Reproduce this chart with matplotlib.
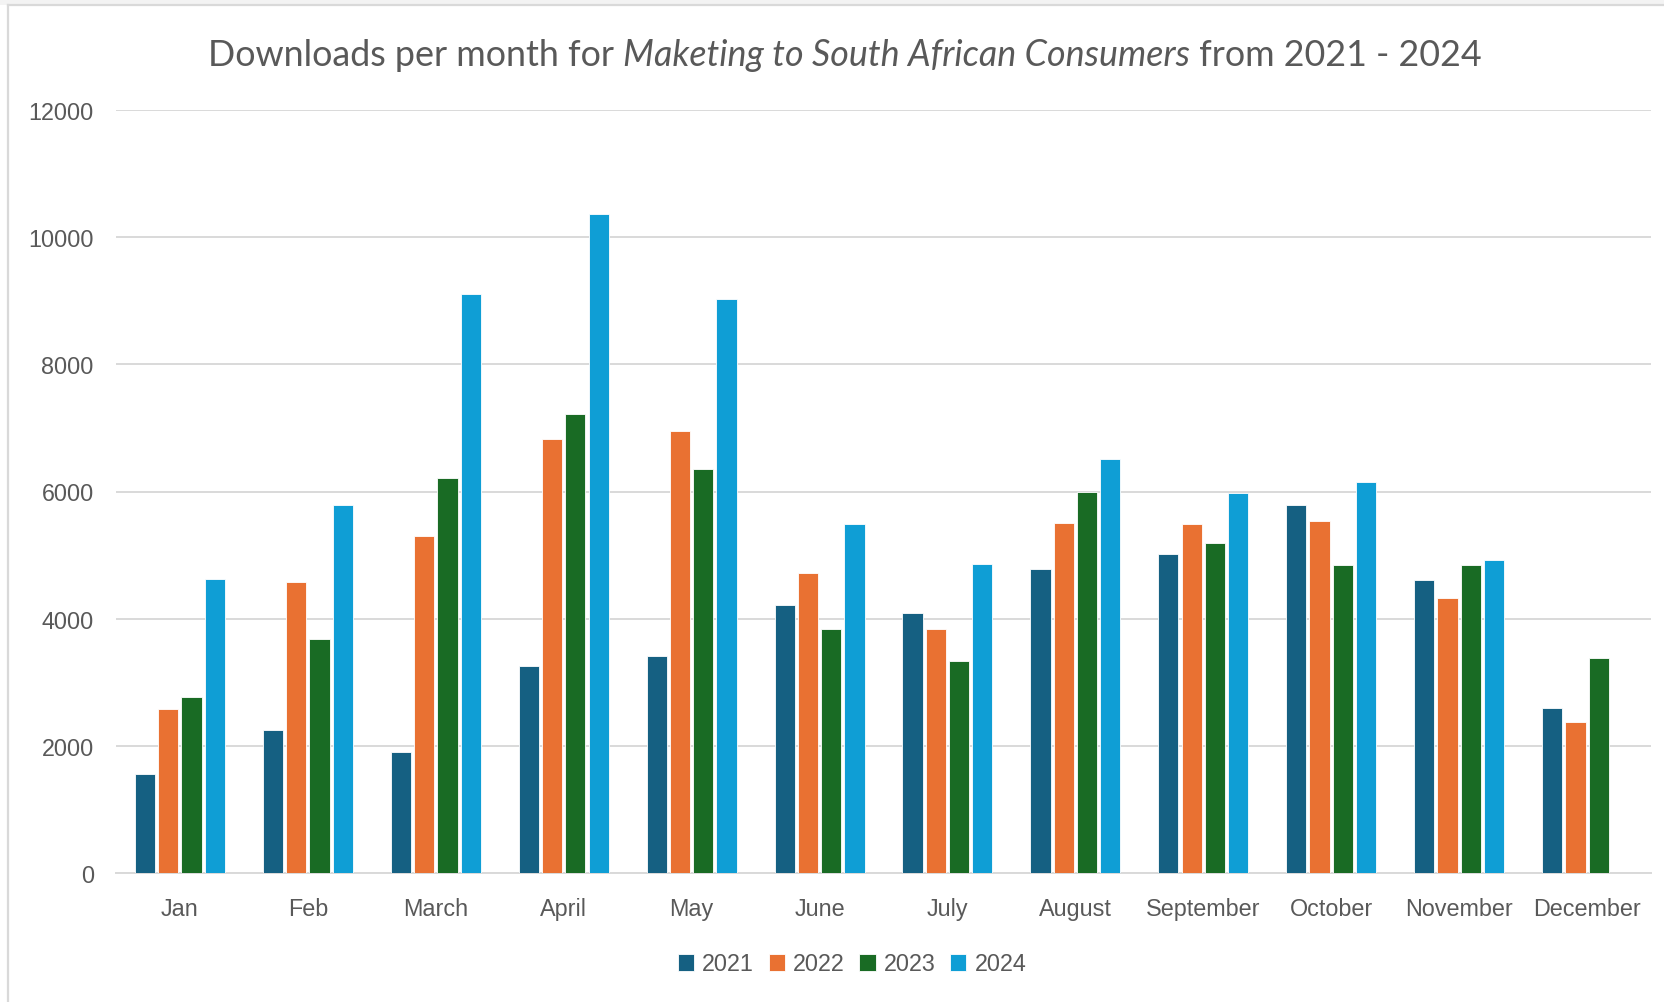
import matplotlib
matplotlib.use("Agg")
import matplotlib.pyplot as plt
import numpy as np
from matplotlib.patches import Rectangle
from matplotlib.lines import Line2D

months = ["Jan", "Feb", "March", "April", "May", "June", "July", "August",
          "September", "October", "November", "December"]
years = ["2021", "2022", "2023", "2024"]
d2021 = [1560, 2255, 1905, 3260, 3415, 4215, 4090, 4780, 5020, 5790, 4610, 2590]
d2022 = [2575, 4570, 5300, 6830, 6945, 4720, 3840, 5510, 5490, 5530, 4325, 2375]
d2023 = [2770, 3675, 6205, 7220, 6360, 3840, 3340, 6000, 5190, 4845, 4845, 3385]
d2024 = [4620, 5780, 9110, 10360, 9020, 5490, 4866, 6515, 5980, 6150, 4925, 0]
series = [d2021, d2022, d2023, d2024]
colors = ["#156082", "#E97132", "#196B24", "#0F9ED5"]
yticks = [0, 2000, 4000, 6000, 8000, 10000, 12000]

W, H, DPI = 1664, 1003, 100
fig = plt.figure(figsize=(W / DPI, H / DPI), dpi=DPI)
fig.patch.set_facecolor("white")

# outer chart frame
fig.add_artist(Rectangle((0, 1 - 6 / H), 1, 6 / H, transform=fig.transFigure,
                         facecolor="#f3f3f3", edgecolor="none", zorder=0))
fig.add_artist(Line2D([8 / W, 8 / W], [0, 1 - 6 / H], transform=fig.transFigure,
                      color="#d9d9d9", lw=1.6))
fig.add_artist(Line2D([8 / W, 1], [1 - 6 / H, 1 - 6 / H], transform=fig.transFigure,
                      color="#d9d9d9", lw=1.6))

ax = fig.add_axes([116 / W, (H - 874) / H, (1651 - 116) / W, (874 - 111) / H])
x = np.arange(len(months))
slot = 0.182
bw = 0.158
for i, (vals, c, yr) in enumerate(zip(series, colors, years)):
    ax.bar(x + (i - 1.5) * slot, vals, width=bw, color=c, edgecolor="white",
           linewidth=0.6, label=yr, zorder=3)

FS = 16.8
ax.set_xlim(-0.5, len(months) - 0.5)
ax.set_ylim(0, 12000)
ax.set_yticks(yticks)
ax.set_yticklabels([str(v) for v in yticks])
ax.set_xticks(x)
ax.set_xticklabels(months)
ax.grid(axis="y", color="#d9d9d9", lw=1.4, zorder=0)
ax.set_axisbelow(True)
for s in ["top", "right", "left"]:
    ax.spines[s].set_visible(False)
ax.spines["bottom"].set_color("#d9d9d9")
ax.spines["bottom"].set_linewidth(1.4)
ax.tick_params(axis="both", length=0, labelsize=FS, labelcolor="#595959")
ax.tick_params(axis="y", pad=16)
ax.tick_params(axis="x", pad=17)
for lab in ax.get_xticklabels() + ax.get_yticklabels():
    lab.set_fontfamily("Liberation Sans")

leg = fig.legend(loc="center", bbox_to_anchor=(852 / W, 1 - 965 / H), ncol=4,
                 frameon=False, handlelength=0.7, handleheight=0.7,
                 handletextpad=0.35, columnspacing=0.62,
                 prop={"family": "Liberation Sans", "size": FS})
for t in leg.get_texts():
    t.set_color("#595959")

# title with italic part
parts = [("Downloads per month for ", "normal"),
         ("Maketing to South African Consumers", "italic"),
         (" from 2021 - 2024", "normal")]
fig.canvas.draw()
renderer = fig.canvas.get_renderer()
fs = 25.8
texts = []
for s, st in parts:
    t = fig.text(0, 1 - 55 / H, s, fontsize=fs, style=st, family="Lato",
                 color="#595959", va="center", ha="left")
    texts.append(t)
widths = [t.get_window_extent(renderer).width for t in texts]
total = sum(widths)
xstart = 845 - total / 2
for t, w in zip(texts, widths):
    t.set_x(xstart / W)
    xstart += w

fig.savefig("out.png", dpi=DPI)
